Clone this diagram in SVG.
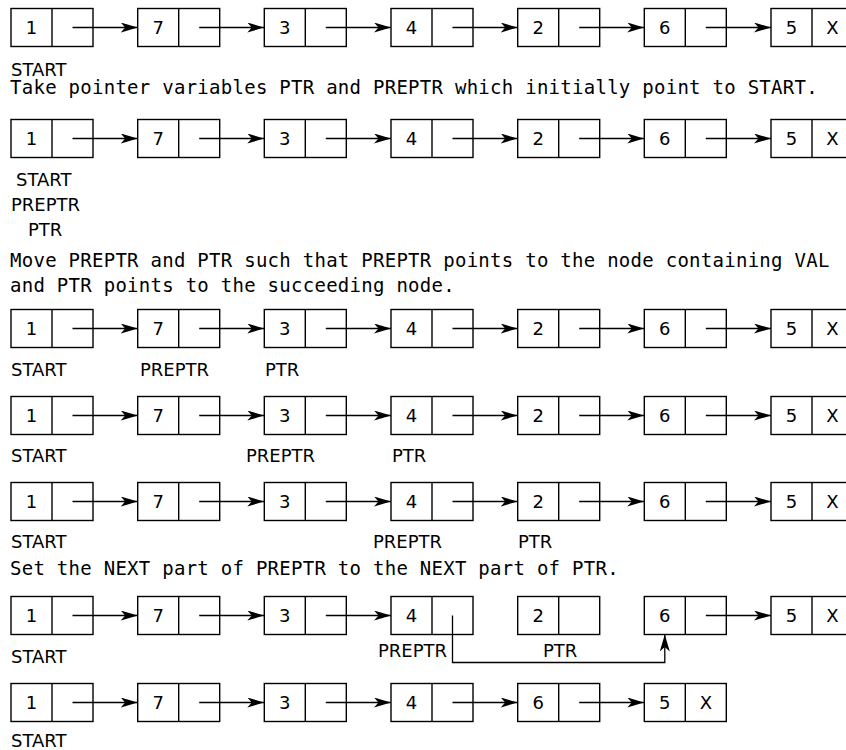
<svg xmlns="http://www.w3.org/2000/svg" width="846" height="750" viewBox="0 0 846 750">
<style>
.box{fill:#fff;stroke:#000;stroke-width:1.4}
.dv{stroke:#000;stroke-width:1.4}
.v{font-family:"DejaVu Sans",sans-serif;font-size:18px;text-anchor:middle;fill:#000}
.lbl{font-family:"DejaVu Sans",sans-serif;font-size:18px;fill:#000}
.s{font-family:"DejaVu Sans Mono",monospace;font-size:19px;letter-spacing:0.27px;fill:#000}
.ar{stroke:#000;stroke-width:1.3;fill:none;marker-end:url(#ah)}
</style>
<defs>
<marker id="ah" markerUnits="userSpaceOnUse" viewBox="0 0 17 10" refX="17" refY="5" markerWidth="17" markerHeight="10" orient="auto">
<path d="M0,0 L17,5 L0,10 L4.5,5 z" fill="#000"/>
</marker>
</defs>
<rect width="846" height="750" fill="#fff"/>

<!-- Row 1 -->
<g id="r1n1"><rect class="box" x="11" y="8.5" width="82" height="38"/><line class="dv" x1="52" y1="8.5" x2="52" y2="46.5"/><text class="v" x="31.5" y="34">1</text></g>
<g id="r1n2"><rect class="box" x="137.7" y="8.5" width="82" height="38"/><line class="dv" x1="178.7" y1="8.5" x2="178.7" y2="46.5"/><text class="v" x="158.2" y="34">7</text></g>
<g id="r1n3"><rect class="box" x="264.3" y="8.5" width="82" height="38"/><line class="dv" x1="305.3" y1="8.5" x2="305.3" y2="46.5"/><text class="v" x="284.8" y="34">3</text></g>
<g id="r1n4"><rect class="box" x="391" y="8.5" width="82" height="38"/><line class="dv" x1="432" y1="8.5" x2="432" y2="46.5"/><text class="v" x="411.5" y="34">4</text></g>
<g id="r1n5"><rect class="box" x="517.7" y="8.5" width="82" height="38"/><line class="dv" x1="558.7" y1="8.5" x2="558.7" y2="46.5"/><text class="v" x="538.2" y="34">2</text></g>
<g id="r1n6"><rect class="box" x="644.3" y="8.5" width="82" height="38"/><line class="dv" x1="685.3" y1="8.5" x2="685.3" y2="46.5"/><text class="v" x="664.8" y="34">6</text></g>
<g id="r1n7"><rect class="box" x="771" y="8.5" width="82" height="38"/><line class="dv" x1="812" y1="8.5" x2="812" y2="46.5"/><text class="v" x="791.5" y="34">5</text><text class="v" x="832.5" y="34">X</text></g>

<!-- Row 2 -->
<g id="r2n1"><rect class="box" x="11" y="119.5" width="82" height="38"/><line class="dv" x1="52" y1="119.5" x2="52" y2="157.5"/><text class="v" x="31.5" y="145">1</text></g>
<g id="r2n2"><rect class="box" x="137.7" y="119.5" width="82" height="38"/><line class="dv" x1="178.7" y1="119.5" x2="178.7" y2="157.5"/><text class="v" x="158.2" y="145">7</text></g>
<g id="r2n3"><rect class="box" x="264.3" y="119.5" width="82" height="38"/><line class="dv" x1="305.3" y1="119.5" x2="305.3" y2="157.5"/><text class="v" x="284.8" y="145">3</text></g>
<g id="r2n4"><rect class="box" x="391" y="119.5" width="82" height="38"/><line class="dv" x1="432" y1="119.5" x2="432" y2="157.5"/><text class="v" x="411.5" y="145">4</text></g>
<g id="r2n5"><rect class="box" x="517.7" y="119.5" width="82" height="38"/><line class="dv" x1="558.7" y1="119.5" x2="558.7" y2="157.5"/><text class="v" x="538.2" y="145">2</text></g>
<g id="r2n6"><rect class="box" x="644.3" y="119.5" width="82" height="38"/><line class="dv" x1="685.3" y1="119.5" x2="685.3" y2="157.5"/><text class="v" x="664.8" y="145">6</text></g>
<g id="r2n7"><rect class="box" x="771" y="119.5" width="82" height="38"/><line class="dv" x1="812" y1="119.5" x2="812" y2="157.5"/><text class="v" x="791.5" y="145">5</text><text class="v" x="832.5" y="145">X</text></g>

<!-- Row 3 -->
<g id="r3n1"><rect class="box" x="11" y="309.5" width="82" height="38"/><line class="dv" x1="52" y1="309.5" x2="52" y2="347.5"/><text class="v" x="31.5" y="335">1</text></g>
<g id="r3n2"><rect class="box" x="137.7" y="309.5" width="82" height="38"/><line class="dv" x1="178.7" y1="309.5" x2="178.7" y2="347.5"/><text class="v" x="158.2" y="335">7</text></g>
<g id="r3n3"><rect class="box" x="264.3" y="309.5" width="82" height="38"/><line class="dv" x1="305.3" y1="309.5" x2="305.3" y2="347.5"/><text class="v" x="284.8" y="335">3</text></g>
<g id="r3n4"><rect class="box" x="391" y="309.5" width="82" height="38"/><line class="dv" x1="432" y1="309.5" x2="432" y2="347.5"/><text class="v" x="411.5" y="335">4</text></g>
<g id="r3n5"><rect class="box" x="517.7" y="309.5" width="82" height="38"/><line class="dv" x1="558.7" y1="309.5" x2="558.7" y2="347.5"/><text class="v" x="538.2" y="335">2</text></g>
<g id="r3n6"><rect class="box" x="644.3" y="309.5" width="82" height="38"/><line class="dv" x1="685.3" y1="309.5" x2="685.3" y2="347.5"/><text class="v" x="664.8" y="335">6</text></g>
<g id="r3n7"><rect class="box" x="771" y="309.5" width="82" height="38"/><line class="dv" x1="812" y1="309.5" x2="812" y2="347.5"/><text class="v" x="791.5" y="335">5</text><text class="v" x="832.5" y="335">X</text></g>

<!-- Row 4 -->
<g id="r4n1"><rect class="box" x="11" y="396.5" width="82" height="38"/><line class="dv" x1="52" y1="396.5" x2="52" y2="434.5"/><text class="v" x="31.5" y="422">1</text></g>
<g id="r4n2"><rect class="box" x="137.7" y="396.5" width="82" height="38"/><line class="dv" x1="178.7" y1="396.5" x2="178.7" y2="434.5"/><text class="v" x="158.2" y="422">7</text></g>
<g id="r4n3"><rect class="box" x="264.3" y="396.5" width="82" height="38"/><line class="dv" x1="305.3" y1="396.5" x2="305.3" y2="434.5"/><text class="v" x="284.8" y="422">3</text></g>
<g id="r4n4"><rect class="box" x="391" y="396.5" width="82" height="38"/><line class="dv" x1="432" y1="396.5" x2="432" y2="434.5"/><text class="v" x="411.5" y="422">4</text></g>
<g id="r4n5"><rect class="box" x="517.7" y="396.5" width="82" height="38"/><line class="dv" x1="558.7" y1="396.5" x2="558.7" y2="434.5"/><text class="v" x="538.2" y="422">2</text></g>
<g id="r4n6"><rect class="box" x="644.3" y="396.5" width="82" height="38"/><line class="dv" x1="685.3" y1="396.5" x2="685.3" y2="434.5"/><text class="v" x="664.8" y="422">6</text></g>
<g id="r4n7"><rect class="box" x="771" y="396.5" width="82" height="38"/><line class="dv" x1="812" y1="396.5" x2="812" y2="434.5"/><text class="v" x="791.5" y="422">5</text><text class="v" x="832.5" y="422">X</text></g>

<!-- Row 5 -->
<g id="r5n1"><rect class="box" x="11" y="482.5" width="82" height="38"/><line class="dv" x1="52" y1="482.5" x2="52" y2="520.5"/><text class="v" x="31.5" y="508">1</text></g>
<g id="r5n2"><rect class="box" x="137.7" y="482.5" width="82" height="38"/><line class="dv" x1="178.7" y1="482.5" x2="178.7" y2="520.5"/><text class="v" x="158.2" y="508">7</text></g>
<g id="r5n3"><rect class="box" x="264.3" y="482.5" width="82" height="38"/><line class="dv" x1="305.3" y1="482.5" x2="305.3" y2="520.5"/><text class="v" x="284.8" y="508">3</text></g>
<g id="r5n4"><rect class="box" x="391" y="482.5" width="82" height="38"/><line class="dv" x1="432" y1="482.5" x2="432" y2="520.5"/><text class="v" x="411.5" y="508">4</text></g>
<g id="r5n5"><rect class="box" x="517.7" y="482.5" width="82" height="38"/><line class="dv" x1="558.7" y1="482.5" x2="558.7" y2="520.5"/><text class="v" x="538.2" y="508">2</text></g>
<g id="r5n6"><rect class="box" x="644.3" y="482.5" width="82" height="38"/><line class="dv" x1="685.3" y1="482.5" x2="685.3" y2="520.5"/><text class="v" x="664.8" y="508">6</text></g>
<g id="r5n7"><rect class="box" x="771" y="482.5" width="82" height="38"/><line class="dv" x1="812" y1="482.5" x2="812" y2="520.5"/><text class="v" x="791.5" y="508">5</text><text class="v" x="832.5" y="508">X</text></g>

<!-- Row 6 -->
<g id="r6n1"><rect class="box" x="11" y="596.5" width="82" height="38"/><line class="dv" x1="52" y1="596.5" x2="52" y2="634.5"/><text class="v" x="31.5" y="622">1</text></g>
<g id="r6n2"><rect class="box" x="137.7" y="596.5" width="82" height="38"/><line class="dv" x1="178.7" y1="596.5" x2="178.7" y2="634.5"/><text class="v" x="158.2" y="622">7</text></g>
<g id="r6n3"><rect class="box" x="264.3" y="596.5" width="82" height="38"/><line class="dv" x1="305.3" y1="596.5" x2="305.3" y2="634.5"/><text class="v" x="284.8" y="622">3</text></g>
<g id="r6n4"><rect class="box" x="391" y="596.5" width="82" height="38"/><line class="dv" x1="432" y1="596.5" x2="432" y2="634.5"/><text class="v" x="411.5" y="622">4</text></g>
<g id="r6n5"><rect class="box" x="517.7" y="596.5" width="82" height="38"/><line class="dv" x1="558.7" y1="596.5" x2="558.7" y2="634.5"/><text class="v" x="538.2" y="622">2</text></g>
<g id="r6n6"><rect class="box" x="644.3" y="596.5" width="82" height="38"/><line class="dv" x1="685.3" y1="596.5" x2="685.3" y2="634.5"/><text class="v" x="664.8" y="622">6</text></g>
<g id="r6n7"><rect class="box" x="771" y="596.5" width="82" height="38"/><line class="dv" x1="812" y1="596.5" x2="812" y2="634.5"/><text class="v" x="791.5" y="622">5</text><text class="v" x="832.5" y="622">X</text></g>

<!-- Row 7 -->
<g id="r7n1"><rect class="box" x="11" y="683.5" width="82" height="38"/><line class="dv" x1="52" y1="683.5" x2="52" y2="721.5"/><text class="v" x="31.5" y="709">1</text></g>
<g id="r7n2"><rect class="box" x="137.7" y="683.5" width="82" height="38"/><line class="dv" x1="178.7" y1="683.5" x2="178.7" y2="721.5"/><text class="v" x="158.2" y="709">7</text></g>
<g id="r7n3"><rect class="box" x="264.3" y="683.5" width="82" height="38"/><line class="dv" x1="305.3" y1="683.5" x2="305.3" y2="721.5"/><text class="v" x="284.8" y="709">3</text></g>
<g id="r7n4"><rect class="box" x="391" y="683.5" width="82" height="38"/><line class="dv" x1="432" y1="683.5" x2="432" y2="721.5"/><text class="v" x="411.5" y="709">4</text></g>
<g id="r7n5"><rect class="box" x="517.7" y="683.5" width="82" height="38"/><line class="dv" x1="558.7" y1="683.5" x2="558.7" y2="721.5"/><text class="v" x="538.2" y="709">6</text></g>
<g id="r7n6"><rect class="box" x="644.3" y="683.5" width="82" height="38"/><line class="dv" x1="685.3" y1="683.5" x2="685.3" y2="721.5"/><text class="v" x="664.8" y="709">5</text><text class="v" x="705.8" y="709">X</text></g>

<g id="connectors">
<path class="ar" d="M72.5,27.5 H137.7"/><path class="ar" d="M199.2,27.5 H264.3"/><path class="ar" d="M325.8,27.5 H391"/><path class="ar" d="M452.5,27.5 H517.7"/><path class="ar" d="M579.2,27.5 H644.3"/><path class="ar" d="M705.8,27.5 H771"/>
<path class="ar" d="M72.5,138.5 H137.7"/><path class="ar" d="M199.2,138.5 H264.3"/><path class="ar" d="M325.8,138.5 H391"/><path class="ar" d="M452.5,138.5 H517.7"/><path class="ar" d="M579.2,138.5 H644.3"/><path class="ar" d="M705.8,138.5 H771"/>
<path class="ar" d="M72.5,328.5 H137.7"/><path class="ar" d="M199.2,328.5 H264.3"/><path class="ar" d="M325.8,328.5 H391"/><path class="ar" d="M452.5,328.5 H517.7"/><path class="ar" d="M579.2,328.5 H644.3"/><path class="ar" d="M705.8,328.5 H771"/>
<path class="ar" d="M72.5,415.5 H137.7"/><path class="ar" d="M199.2,415.5 H264.3"/><path class="ar" d="M325.8,415.5 H391"/><path class="ar" d="M452.5,415.5 H517.7"/><path class="ar" d="M579.2,415.5 H644.3"/><path class="ar" d="M705.8,415.5 H771"/>
<path class="ar" d="M72.5,501.5 H137.7"/><path class="ar" d="M199.2,501.5 H264.3"/><path class="ar" d="M325.8,501.5 H391"/><path class="ar" d="M452.5,501.5 H517.7"/><path class="ar" d="M579.2,501.5 H644.3"/><path class="ar" d="M705.8,501.5 H771"/>
<path class="ar" d="M72.5,615.5 H137.7"/><path class="ar" d="M199.2,615.5 H264.3"/><path class="ar" d="M325.8,615.5 H391"/><path class="ar" d="M705.8,615.5 H771"/>
<path class="ar" d="M452.5,615.5 V662.5 H664.8 V634.5"/>
<path class="ar" d="M72.5,702.5 H137.7"/><path class="ar" d="M199.2,702.5 H264.3"/><path class="ar" d="M325.8,702.5 H391"/><path class="ar" d="M452.5,702.5 H517.7"/><path class="ar" d="M579.2,702.5 H644.3"/>
</g>

<g id="labels">
<text class="lbl" x="11" y="76">START</text>
<text class="s" x="10" y="94">Take pointer variables PTR and PREPTR which initially point to START.</text>
<text class="lbl" x="16" y="186">START</text>
<text class="lbl" x="11" y="211">PREPTR</text>
<text class="lbl" x="28" y="236">PTR</text>
<text class="s" x="10" y="267">Move PREPTR and PTR such that PREPTR points to the node containing VAL</text>
<text class="s" x="10" y="292">and PTR points to the succeeding node.</text>
<text class="lbl" x="11" y="376">START</text>
<text class="lbl" x="140" y="376">PREPTR</text>
<text class="lbl" x="265" y="376">PTR</text>
<text class="lbl" x="11" y="462">START</text>
<text class="lbl" x="246" y="462">PREPTR</text>
<text class="lbl" x="392" y="462">PTR</text>
<text class="lbl" x="11" y="548">START</text>
<text class="lbl" x="373" y="548">PREPTR</text>
<text class="lbl" x="518" y="548">PTR</text>
<text class="s" x="10" y="575">Set the NEXT part of PREPTR to the NEXT part of PTR.</text>
<text class="lbl" x="11" y="663">START</text>
<text class="lbl" x="378" y="657">PREPTR</text>
<text class="lbl" x="543" y="657">PTR</text>
<text class="lbl" x="11" y="747">START</text>
</g>
</svg>
